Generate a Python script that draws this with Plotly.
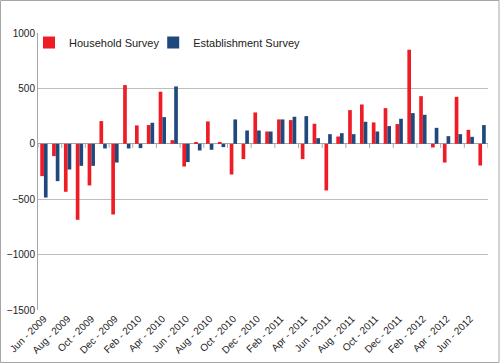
import plotly.graph_objects as go

months = ["Jun", "Jul", "Aug", "Sep", "Oct", "Nov", "Dec", "Jan", "Feb", "Mar", "Apr", "May"]
categories = []
for i in range(38):
    y = 2009 + (5 + i) // 12
    categories.append(f"{months[i % 12]} - {y}")

household = [-292, -111, -433, -686, -376, 205, -638, 530, 166, 169,
             470, 33, -205, 10, 202, 10, -277, -138, 283, 111,
             220, 214, -138, 181, -421, 66, 304, 355, 193, 322,
             178, 849, 430, -33, -169, 424, 126, -196]
establishment = [-485, -337, -232, -199, -199, -42, -169, -42, -39, 190,
                 241, 518, -165, -60, -54, -30, 220, 120, 120, 111,
                 220, 244, 250, 51, 87, 96, 87, 199, 111, 160,
                 226, 277, 262, 144, 69, 87, 63, 169]
tick_labels = categories[::2]
y_ticks = [1000, 500, 0, -500, -1000, -1500]

fig = go.Figure()
fig.add_trace(go.Bar(x=categories, y=household, name="Household Survey",
                     legend="legend",
                     marker=dict(color="#EE1C25", line=dict(width=0))))
fig.add_trace(go.Bar(x=categories, y=establishment, name="Establishment Survey",
                     legend="legend2",
                     marker=dict(color="#1F497D", line=dict(width=0))))

font = "Liberation Sans, Arial, sans-serif"
leg_common = dict(orientation="h", y=1.018, xanchor="left", yanchor="top",
                  font=dict(size=11, color="#222222"), bgcolor="rgba(0,0,0,0)",
                  itemwidth=30)
fig.update_layout(
    width=500, height=363,
    margin=dict(l=38, r=12, t=33, b=53, autoexpand=False),
    paper_bgcolor="white", plot_bgcolor="white",
    barmode="group", bargap=0.38, bargroupgap=0,
    font=dict(family=font, size=10, color="#333333"),
    showlegend=True,
    legend=dict(x=-0.02, **leg_common),
    legend2=dict(x=0.256, **leg_common),
    xaxis=dict(type="category", categoryorder="array", categoryarray=categories,
               tickmode="array", tickvals=tick_labels, ticktext=tick_labels,
               tickangle=-45, showgrid=False, showline=False, ticks="",
               automargin=False,
               tickfont=dict(size=10, color="#222222"), range=[-0.5, 37.5]),
    yaxis=dict(range=[-1500, 1000], tickvals=y_ticks, showgrid=True,
               gridcolor="#BDBDBD", gridwidth=1, zeroline=True,
               zerolinecolor="#A6A6A6", zerolinewidth=1,
               showline=True, linecolor="#A6A6A6", linewidth=1,
               ticks="", automargin=False,
               tickfont=dict(size=10, color="#222222")),
)
# small tick marks on the zero line at every second category boundary
for i in range(0, len(categories) + 1, 2):
    fig.add_shape(type="line", xref="x", yref="y", x0=i - 0.5, x1=i - 0.5,
                  ysizemode="pixel", yanchor=0, y0=0, y1=-4,
                  line=dict(color="#A6A6A6", width=1))
fig.add_shape(type="rect", xref="paper", yref="paper",
              x0=-37.5 / 450, x1=1 + 11 / 450, y0=-52.5 / 277, y1=1 + 32.5 / 277,
              line=dict(color="#A6A6A6", width=1))
fig.write_html("out.html", config={"displayModeBar": False},
               post_script="document.body.style.margin='0';document.body.style.padding='0';")
